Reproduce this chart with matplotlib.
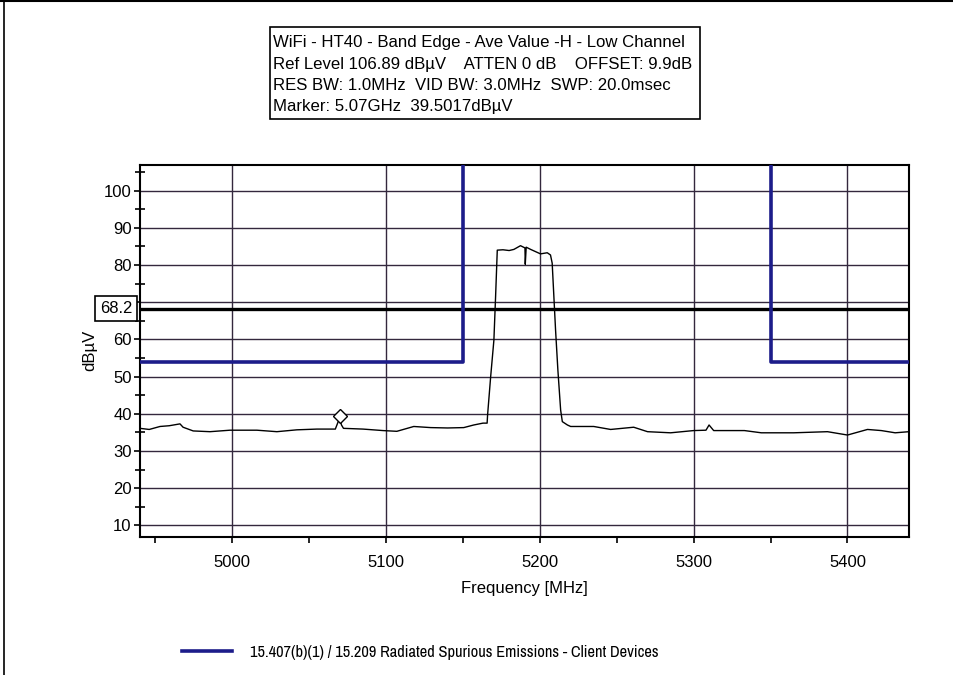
import matplotlib.pyplot as plt
from matplotlib.lines import Line2D
from matplotlib.patches import Rectangle
from matplotlib import font_manager
import matplotlib.transforms as mtransforms

freq = [4940, 4946, 4953, 4959, 4966, 4968, 4974.6, 4985.5, 4998.5, 5016, 5029, 5042,
        5055, 5067, 5068.5, 5069.7, 5071, 5072.3, 5085, 5098, 5107, 5118, 5129, 5140,
        5150.5, 5157, 5163, 5165.7, 5166, 5168, 5170.1, 5171.2, 5172.3, 5176, 5180,
        5183.1, 5187.4, 5190.3, 5190.5, 5191.1, 5194, 5200.4, 5204.8, 5206.9, 5208,
        5209.1, 5210.2, 5211.7, 5213.5, 5214.6, 5217.9, 5220, 5235, 5246, 5261, 5270,
        5285, 5300, 5308, 5310, 5313, 5333, 5344, 5365, 5387, 5400, 5413, 5422, 5431, 5440]
level = [36.1, 35.8, 36.6, 36.8, 37.3, 36.4, 35.4, 35.2, 35.6, 35.6, 35.2, 35.7,
         35.9, 35.9, 37.5, 38.8, 37.0, 36.1, 35.9, 35.5, 35.3, 36.6, 36.3, 36.2,
         36.3, 37.0, 37.5, 37.5, 39.7, 50.0, 59.8, 71.5, 84.0, 84.1, 83.9,
         84.2, 85.2, 84.6, 80.2, 84.8, 84.2, 83.0, 83.3, 82.7, 80.5,
         71.5, 62.5, 51.8, 41.0, 37.9, 37.0, 36.6, 36.6, 35.8, 36.4, 35.2,
         34.9, 35.5, 35.6, 37.0, 35.5, 35.5, 34.9, 34.9, 35.2, 34.3, 35.8, 35.5, 34.9, 35.2]

# 15.407(b)(1) / 15.209 limit, two restricted-band pieces
limit_lo_f = [4940, 5150, 5150]
limit_lo_db = [54, 54, 106.89]
limit_hi_f = [5350, 5350, 5440]
limit_hi_db = [106.89, 54, 54]

disp_line = 68.2
marker_f, marker_db = 5070, 39.5

header = ["WiFi - HT40 - Band Edge - Ave Value -H - Low Channel",
          "Ref Level 106.89 dB\u00b5V    ATTEN 0 dB    OFFSET: 9.9dB",
          "RES BW: 1.0MHz  VID BW: 3.0MHz  SWP: 20.0msec",
          "Marker: 5.07GHz  39.5017dB\u00b5V"]
legend_label = '15.407(b)(1) / 15.209 Radiated Spurious Emissions - Client Devices'

plt.rcParams['font.family'] = ['Liberation Sans', 'DejaVu Sans']

# narrow face for the legend if one is around
narrow = None
for f in font_manager.fontManager.ttflist:
    if 'Narrow' in f.name or 'Condensed' in f.name:
        if f.style == 'normal' and f.weight in (400, 'normal'):
            narrow = f.name
            break
if narrow:
    leg_prop = {'family': [narrow, 'Liberation Sans'], 'size': 11.8}
else:
    leg_prop = {'family': ['Liberation Sans'], 'size': 9.8}

W, H = 954, 675
fig = plt.figure(figsize=(W / 100, H / 100), dpi=100)

def fx(px):
    return px / W

def fy(py):
    return 1 - py / H

ax = fig.add_axes([fx(140), fy(537), fx(909) - fx(140), fy(165) - fy(537)])
ax.set_xlim(4940, 5440)
ax.set_ylim(6.89, 106.89)

grid_c = '#33283d'
for v in range(5000, 5401, 100):
    ax.axvline(v, color=grid_c, lw=1.0, zorder=1)
for v in range(10, 101, 10):
    ax.axhline(v, color=grid_c, lw=1.0, zorder=1)

ax.axhline(disp_line, color='black', lw=2.4, zorder=3)
ax.plot(limit_lo_f, limit_lo_db, color='#1c1c8a', lw=2.6, zorder=4)
ax.plot(limit_hi_f, limit_hi_db, color='#1c1c8a', lw=2.6, zorder=4)
ax.plot(freq, level, color='black', lw=1.0, zorder=5)
ax.plot([marker_f], [marker_db], marker='D', ms=7, mfc='white', mec='black', mew=1.0, zorder=6)

ax.set_xticks(range(5000, 5401, 100))
ax.set_xticks(range(4950, 5440, 50), minor=True)
yt = list(range(10, 101, 10))
ax.set_yticks(yt)
ax.set_yticklabels(['' if v == 70 else str(v) for v in yt])
ax.set_yticks(range(15, 106, 10), minor=True)
ax.tick_params(axis='both', which='major', direction='out', length=4, width=1.2, labelsize=12)
ax.tick_params(axis='x', which='major', pad=9)
ax.tick_params(axis='y', which='major', pad=2)
ax.tick_params(axis='x', which='minor', direction='out', length=4, width=1.2)
ax.tick_params(axis='y', which='minor', direction='inout', length=7, width=1.2)
for s in ax.spines.values():
    s.set_linewidth(1.5)

ax.set_xlabel('Frequency [MHz]', fontsize=12, labelpad=8)
fig.text(fx(90), fy(350), 'dB\u00b5V', rotation=90, fontsize=12, ha='center', va='center')

trans = mtransforms.blended_transform_factory(ax.transAxes, ax.transData)
ax.text((116 - 140) / 769, disp_line, f'{disp_line}', transform=trans, fontsize=12,
        ha='center', va='center', zorder=10,
        bbox=dict(boxstyle='square,pad=0.3', fc='white', ec='black', lw=1.2))

# header box
fig.patches.append(Rectangle((fx(270), fy(119)), fx(700) - fx(270), fy(27) - fy(119),
                             transform=fig.transFigure, fill=False, ec='black', lw=1.2))
for txt, yc in zip(header, [43, 64, 85, 107]):
    fig.text(fx(273), fy(yc), txt, fontsize=12.1, ha='left', va='center')

# legend
lim_handle = Line2D([], [], color='#1c1c8a', lw=2.6)
fig.legend([lim_handle], [legend_label],
           loc='center left', bbox_to_anchor=(fx(182), fy(652)), frameon=False,
           borderpad=0, borderaxespad=0, handlelength=50 / (leg_prop['size'] * 100 / 72),
           handletextpad=18 / (leg_prop['size'] * 100 / 72), prop=leg_prop)

# screenshot frame edges
fig.add_artist(Line2D([0, 1], [fy(1), fy(1)], transform=fig.transFigure, color='black', lw=1.5))
fig.add_artist(Line2D([fx(4), fx(4)], [0, 1], transform=fig.transFigure, color='black', lw=1.2))

fig.savefig('out.png', dpi=100)
